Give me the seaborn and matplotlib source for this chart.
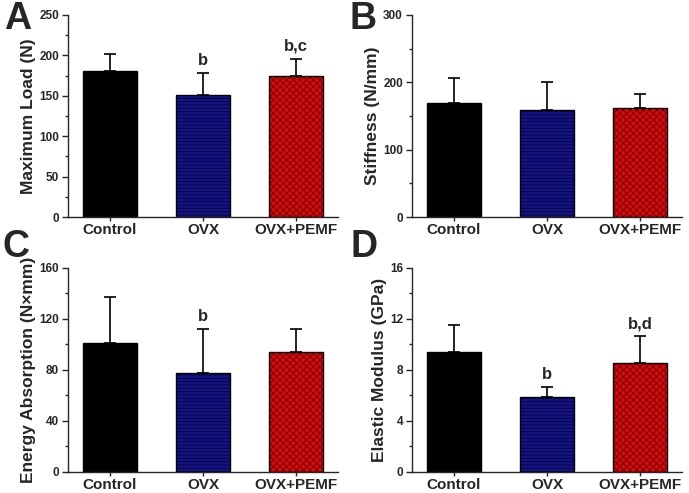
import pandas as pd
import seaborn as sns
import matplotlib.pyplot as plt
from matplotlib.colors import to_rgba
from matplotlib.ticker import AutoMinorLocator

groups = ["Control", "OVX", "OVX+PEMF"]

max_load = [181, 151, 174]
max_load_err = [21, 27, 22]
max_load_sig = ["", "b", "b,c"]

stiffness = [170, 159, 162]
stiffness_err = [37, 41, 20]
stiffness_sig = ["", "", ""]

energy = [101, 78, 94]
energy_err = [36, 34, 18]
energy_sig = ["", "b", ""]

modulus = [9.45, 5.9, 8.58]
modulus_err = [2.1, 0.75, 2.07]
modulus_sig = ["", "b", "b,d"]

sns.set_style("ticks")
plt.rcParams["font.family"] = ["Liberation Sans", "DejaVu Sans"]
plt.rcParams["font.weight"] = "bold"

fig = plt.figure(figsize=(6.89, 4.93), dpi=100)

# letter, values, errors, marks, label, ymax, step, axes box, letter (x, y)
panels = [
    ("A", max_load, max_load_err, max_load_sig, "Maximum Load (N)", 250, 50,
     [0.0987, 0.5598, 0.3919, 0.4098], (-0.188, 0.93)),
    ("B", stiffness, stiffness_err, stiffness_sig, "Stiffness (N/mm)", 300, 100,
     [0.5980, 0.5598, 0.3919, 0.4098], (-0.182, 0.93)),
    ("C", energy, energy_err, energy_sig, "Energy Absorption (N\u00d7mm)", 160, 40,
     [0.0987, 0.0426, 0.3919, 0.4138], (-0.192, 1.055)),
    ("D", modulus, modulus_err, modulus_sig, "Elastic Modulus (GPa)", 16, 4,
     [0.5980, 0.0426, 0.3919, 0.4138], (-0.176, 1.055)),
]

face_colors = ["#000000", "#141488", "#e00808"]
hatches = [None, "-----", "xxxxx"]
hatch_colors = ["#000000", "#05053a", "#6a0000"]

for letter, vals, errs, sig, ylabel, ymax, ystep, pos, lpos in panels:
    ax = fig.add_axes(pos)
    df = pd.DataFrame({"group": groups, "value": vals})
    sns.barplot(data=df, x="group", y="value", ax=ax, errorbar=None,
                width=0.58, linewidth=1.0, edgecolor="black")
    for i, patch in enumerate(ax.patches):
        patch.set_facecolor(face_colors[i])
        if hatches[i]:
            patch.set_hatch(hatches[i])
            patch.set_hatch_linewidth(0.7)
            patch._hatch_color = to_rgba(hatch_colors[i])
    ax.errorbar(range(3), vals, yerr=[[0, 0, 0], errs], fmt="none",
                ecolor="black", elinewidth=1.2, capsize=4, capthick=1.2)
    for i in range(3):
        if sig[i]:
            ax.text(i, vals[i] + errs[i] + ymax * 0.025, sig[i], ha="center",
                    va="bottom", fontsize=12, fontweight="bold")
    ax.set_xlim(-0.45, 2.45)
    ax.set_ylim(0, ymax)
    ax.set_yticks(range(0, ymax + 1, ystep))
    ax.yaxis.set_minor_locator(AutoMinorLocator(2))
    ax.tick_params(axis="y", which="major", direction="out", length=4,
                   width=1, labelsize=8.5, pad=2.5)
    ax.tick_params(axis="y", which="minor", direction="out", length=2, width=1)
    ax.tick_params(axis="x", direction="out", length=3, width=1,
                   labelsize=11, pad=1.5)
    for lab in ax.get_xticklabels() + ax.get_yticklabels():
        lab.set_fontweight("bold")
    ax.set_xlabel(None)
    ax.set_ylabel(ylabel, fontsize=12.5, fontweight="bold", labelpad=2)
    sns.despine(ax=ax)
    for s in ["left", "bottom"]:
        ax.spines[s].set_linewidth(1.0)
    ax.text(lpos[0], lpos[1], letter, transform=ax.transAxes, fontsize=27,
            fontweight="bold", ha="center", va="baseline")

fig.savefig("out.png", dpi=100)
